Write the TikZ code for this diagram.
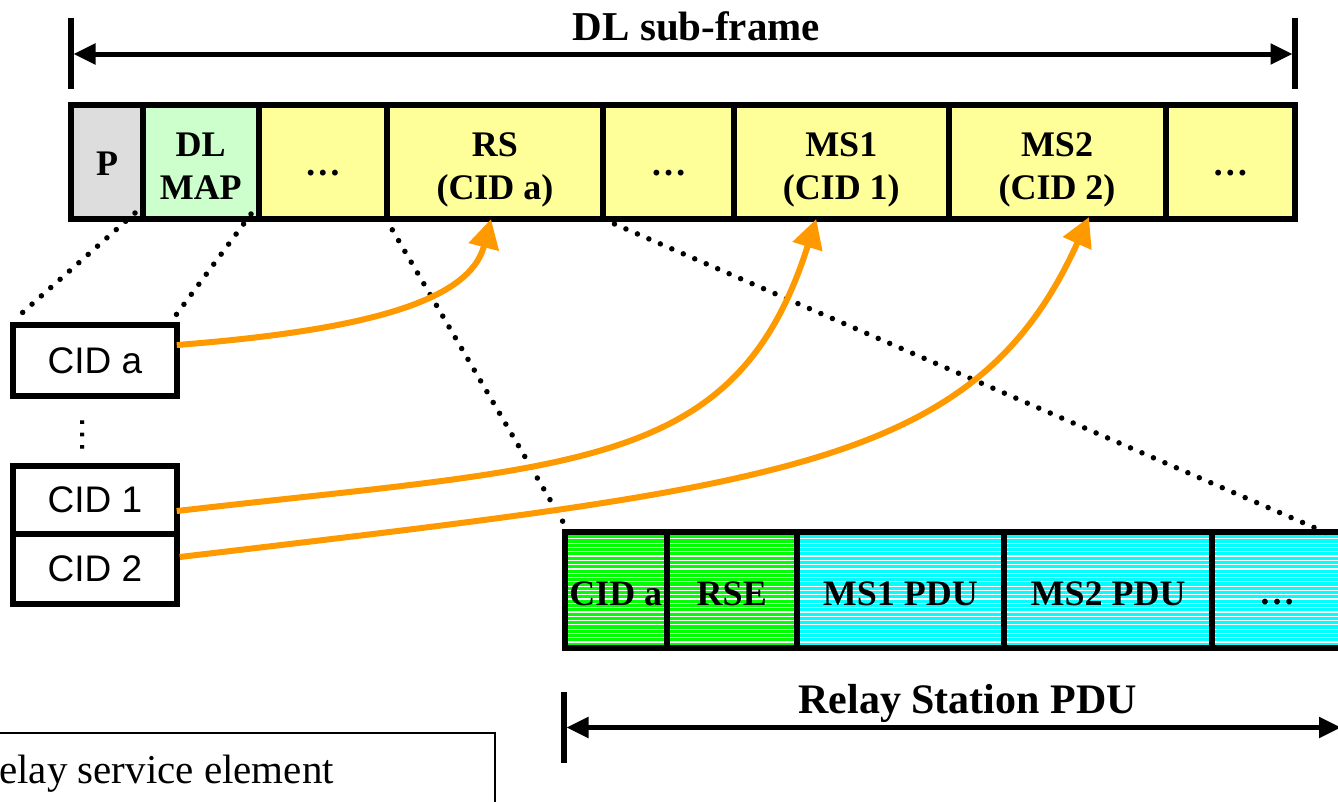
\documentclass[tikz,border=0pt]{standalone}
\usepackage{fontspec}
\setmainfont{Liberation Serif}
\newfontfamily\sansf{Liberation Sans}
\usetikzlibrary{arrows.meta,calc}
\definecolor{cgray}{HTML}{DDDDDD}
\definecolor{cmint}{HTML}{CCFFCC}
\definecolor{cyel}{HTML}{FFFF99}
\definecolor{cgreen}{HTML}{00FF00}
\definecolor{ccyan}{HTML}{00FFFF}
\definecolor{corange}{HTML}{FF9900}
\begin{document}
\begin{tikzpicture}[x=1pt,y=-1pt,
  cell/.style={draw=black, line width=6pt, inner sep=0pt, minimum height=114.5pt},
  stripes/.style={path picture={\foreach \k in {0,...,27}{\draw[white,line width=1.2pt] ([yshift=-2.5pt-\k*4.3pt]path picture bounding box.north west) -- ([yshift=-2.5pt-\k*4.3pt]path picture bounding box.north east);}}},
  bcell/.style={draw=black, line width=6pt, inner sep=0pt, minimum height=116pt, stripes},
  lbl/.style={font=\fontsize{36}{36}\selectfont\bfseries, inner sep=0pt, anchor=base},
  cidbox/.style={draw=black, line width=6pt, inner sep=0pt, minimum width=163.5pt, font=\sansf\fontsize{37}{37}\selectfont},
  dotline/.style={line width=5.5pt, line cap=round, dash pattern=on 0pt off 12.5pt},
  orangearrow/.style={corange, line width=6pt, -{Triangle[length=29pt,width=30pt]}},
  dimarrow/.style={line width=5pt, {Triangle[length=22pt,width=20pt]}-{Triangle[length=22pt,width=20pt]}},
  endbar/.style={line width=6pt}
]
\useasboundingbox (0,0) rectangle (1338,801);
\clip (0,0) rectangle (1338,801);

% DL sub-frame dimension
\coordinate (sfTL) at (71,18); \coordinate (sfBL) at (71,89);
\coordinate (sfTR) at (1295,18); \coordinate (sfBR) at (1295,89);
\coordinate (sfL) at (73.5,54); \coordinate (sfR) at (1292.5,54);
\draw[endbar] (sfTL) -- (sfBL);
\draw[endbar] (sfTR) -- (sfBR);
\draw[dimarrow] (sfL) -- (sfR);
\node[font=\fontsize{41}{41}\selectfont\bfseries, inner sep=0pt, anchor=base] (sftitle) at (696.5,40) {DL sub-frame};

% top frame
\node[cell, fill=cgray, minimum width=72pt] (p) at (107,161.75) {};
\node[cell, fill=cmint, minimum width=115.5pt] (dlmap) at (200.75,161.75) {};
\node[cell, fill=cyel, minimum width=128.5pt] (dots1) at (322.75,161.75) {};
\node[cell, fill=cyel, minimum width=216pt] (rs) at (495,161.75) {};
\node[cell, fill=cyel, minimum width=131pt] (dots2) at (668.5,161.75) {};
\node[cell, fill=cyel, minimum width=214.5pt] (ms1) at (841.25,161.75) {};
\node[cell, fill=cyel, minimum width=217pt] (ms2) at (1057,161.75) {};
\node[cell, fill=cyel, minimum width=129.5pt] (dots3) at (1230.25,161.75) {};

\node[lbl] (tp) at ($(p.center)+(0,14)$) {P};
\node[lbl] (tdl) at ($(dlmap.center)+(0,-5.75)$) {DL};
\node[lbl] (tmap) at ($(dlmap.center)+(0,37.25)$) {MAP};
\node[lbl] (td1) at ($(dots1.center)+(0,13.25)$) {…};
\node[lbl] (trs) at ($(rs.center)+(0,-5.75)$) {RS};
\node[lbl] (trsc) at ($(rs.center)+(0,37.25)$) {(CID a)};
\node[lbl] (td2) at ($(dots2.center)+(0,13.25)$) {…};
\node[lbl] (tms1) at ($(ms1.center)+(0,-5.75)$) {MS1};
\node[lbl] (tms1c) at ($(ms1.center)+(0,37.25)$) {(CID 1)};
\node[lbl] (tms2) at ($(ms2.center)+(0,-5.75)$) {MS2};
\node[lbl] (tms2c) at ($(ms2.center)+(0,37.25)$) {(CID 2)};
\node[lbl] (td3) at ($(dots3.center)+(0,13.25)$) {…};

% bottom frame (relay station PDU)
\node[bcell, fill=cgreen, minimum width=102.5pt] (bcid) at (615.75,590) {};
\node[bcell, fill=cgreen, minimum width=129.5pt] (brse) at (731.75,590) {};
\node[bcell, fill=ccyan, minimum width=207.5pt] (bms1) at (900.25,590) {};
\node[bcell, fill=ccyan, minimum width=208pt] (bms2) at (1108,590) {};
\node[bcell, fill=ccyan, minimum width=130pt] (bdots) at (1277,590) {};

\node[lbl] (tbcid) at ($(bcid.center)+(0,15)$) {CID a};
\node[lbl] (tbrse) at ($(brse.center)+(0,15)$) {RSE};
\node[lbl] (tbms1) at ($(bms1.center)+(0,15)$) {MS1 PDU};
\node[lbl] (tbms2) at ($(bms2.center)+(0,15)$) {MS2 PDU};
\node[lbl] (tbdots) at ($(bdots.center)+(0,14)$) {…};

% Relay Station PDU dimension
\coordinate (rpT) at (564,692); \coordinate (rpB) at (564,763);
\coordinate (rpL) at (566.5,727.5); \coordinate (rpR) at (1341,727.5);
\draw[endbar] (rpT) -- (rpB);
\draw[dimarrow] (rpL) -- (rpR);
\node[font=\fontsize{42}{42}\selectfont\bfseries, inner sep=0pt, anchor=base] (rptitle) at (967.5,713) {Relay Station PDU};

% CID list
\node[cidbox, minimum height=71pt] (cida) at (95,360.5) {CID a};
\node[font=\sansf\fontsize{39}{39}\selectfont, inner sep=0pt, rotate=-90] (vdots) at (83,435) {…};
\node[cidbox, minimum height=68.5pt] (cid1) at (95,500) {CID 1};
\node[cidbox, minimum height=70.5pt] (cid2) at (95,569) {CID 2};

% legend
\node[draw=black, line width=2.5pt, inner sep=0pt, minimum width=513.5pt, minimum height=100pt, anchor=north west] (legend) at (-20,731.5) {};
\node[font=\fontsize{41}{41}\selectfont, inner sep=0pt, anchor=base west] (legtext) at (-1,783) {elay service element};

% dotted zoom lines
\coordinate (d1a) at (135,213); \coordinate (d1b) at (22,313);
\coordinate (d2a) at (251,214); \coordinate (d2b) at (176,315);
\coordinate (d3a) at (386,219); \coordinate (d3b) at (573,539);
\coordinate (d4a) at (603,219); \coordinate (d4b) at (1336,537);
\draw[dotline] (d1a) -- (d1b);
\draw[dotline] (d2a) -- (d2b);
\draw[dotline] (d3a) -- (d3b);
\draw[dotline] (d4a) -- (d4b);

% orange mapping arrows
\draw[orangearrow] ($(cida.east)+(-3,-15.5)$) .. controls (370,330) and (470,300) .. ($(rs.south)+(-4,-3)$);
\draw[orangearrow] ($(cid1.east)+(-3,11)$) .. controls (577,465) and (736,472) .. ($(ms1.south)+(-25,-3)$);
\draw[orangearrow] ($(cid2.east)+(0,-12)$) .. controls (780,486) and (976,468) .. ($(ms2.south)+(32,-5)$);
\end{tikzpicture}
\end{document}
